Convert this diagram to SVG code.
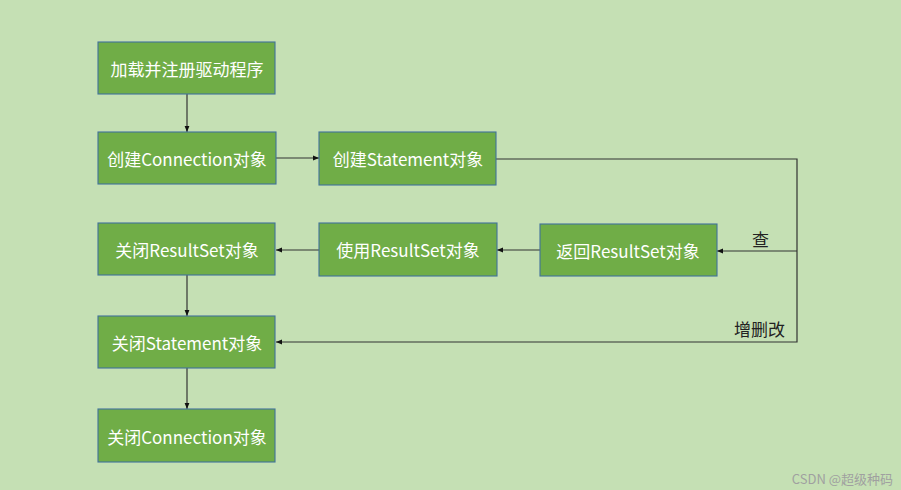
<svg xmlns="http://www.w3.org/2000/svg" width="901" height="490" viewBox="0 0 901 490">
<style>
.box{fill:#70AD47;stroke:#41719C;stroke-width:1.1}
.t{fill:#ffffff;font-family:"Microsoft YaHei","Noto Sans CJK SC",sans-serif;font-size:17px;text-anchor:middle;dominant-baseline:central}
.c{fill:none;stroke:#333;stroke-width:1.2}
.lbl{fill:#222;font-family:"Noto Sans CJK SC",sans-serif;font-size:17px}
</style>
<defs>
<marker id="ah" viewBox="0 0 10 10" refX="10" refY="5" markerWidth="6" markerHeight="6" orient="auto" markerUnits="userSpaceOnUse">
<path d="M0,1 L10,5 L0,9 Z" fill="#111"/>
</marker>
</defs>
<rect width="901" height="490" fill="#C5E0B4"/>
<g id="connectors">
<path class="c" d="M187,94 V132" marker-end="url(#ah)"/>
<path class="c" d="M276,158 H319" marker-end="url(#ah)"/>
<path class="c" d="M496,159 H797 V342 H276" marker-end="url(#ah)"/>
<path class="c" d="M797,251 H717" marker-end="url(#ah)"/>
<path class="c" d="M540,250 H497" marker-end="url(#ah)"/>
<path class="c" d="M319,250 H276" marker-end="url(#ah)"/>
<path class="c" d="M187,275 V316" marker-end="url(#ah)"/>
<path class="c" d="M187,368 V409" marker-end="url(#ah)"/>
<text class="lbl" x="752" y="246">查</text>
<text class="lbl" x="734" y="336">增删改</text>
</g>
<g id="n1"><rect class="box" x="98" y="42" width="177" height="52"/><text class="t" x="187" y="68">加载并注册驱动程序</text></g>
<g id="n2"><rect class="box" x="98" y="132" width="178" height="52"/><text class="t" x="187" y="158">创建Connection对象</text></g>
<g id="n3"><rect class="box" x="319" y="132" width="177" height="53"/><text class="t" x="408" y="158">创建Statement对象</text></g>
<g id="n4"><rect class="box" x="540" y="224" width="177" height="52"/><text class="t" x="628" y="250">返回ResultSet对象</text></g>
<g id="n5"><rect class="box" x="319" y="223" width="178" height="53"/><text class="t" x="408" y="249">使用ResultSet对象</text></g>
<g id="n6"><rect class="box" x="98" y="223" width="177" height="52"/><text class="t" x="187" y="249">关闭ResultSet对象</text></g>
<g id="n7"><rect class="box" x="98" y="316" width="177" height="52"/><text class="t" x="187" y="342">关闭Statement对象</text></g>
<g id="n8"><rect class="box" x="98" y="409" width="177" height="53"/><text class="t" x="187" y="436">关闭Connection对象</text></g>
<text x="893" y="484" text-anchor="end" fill="#a0a0a0" font-family="'Noto Sans CJK SC',sans-serif" font-size="13">CSDN @超级种码</text>
</svg>
